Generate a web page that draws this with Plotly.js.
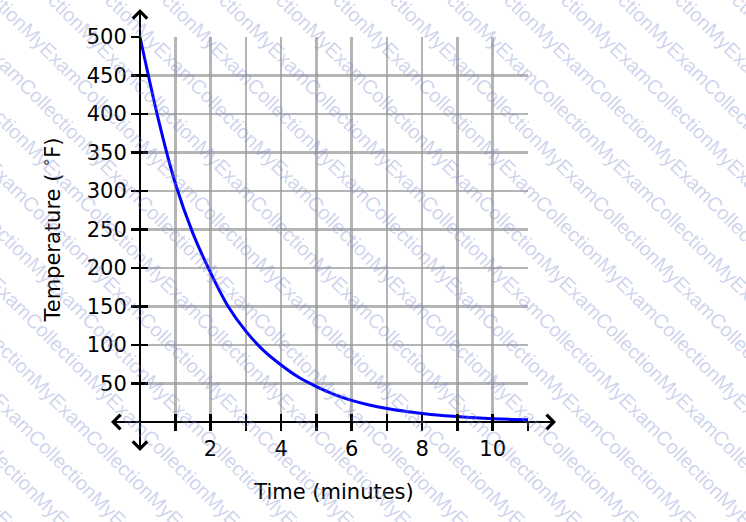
<!DOCTYPE html>
<html>
<head>
<meta charset="utf-8">
<script src="https://cdn.plot.ly/plotly-3.0.1.min.js"></script>
<style>
  html, body { margin: 0; padding: 0; background: #fff; }
  #chart { width: 746px; height: 522px; }
</style>
</head>
<body>
<div id="chart"></div>
<script>
// values, every half minute
var minutes = [0, 0.5, 1, 1.5, 2, 2.5, 3, 3.5, 4, 4.5, 5, 5.5, 6, 6.5, 7, 7.5, 8, 8.5, 9, 9.5, 10, 10.5, 11];
var temps   = [500, 397, 310, 245, 194, 150, 118, 93, 74, 58, 46, 36, 28, 22, 17.5, 14, 11, 8.7, 7, 5.4, 4.3, 3.4, 2.8];

var xTicks = [1, 2, 3, 4, 5, 6, 7, 8, 9, 10, 11];
var xLabels = ['', '2', '', '4', '', '6', '', '8', '', '10', ''];
var yTicks = [50, 100, 150, 200, 250, 300, 350, 400, 450, 500];

var font = 'DejaVu Sans, sans-serif';

var curve = {
  x: minutes,
  y: temps,
  type: 'scatter',
  mode: 'lines',
  line: { color: '#0000ff', width: 3, shape: 'spline', smoothing: 0.8 },
  cliponaxis: false,
  hoverinfo: 'skip'
};

// plot area in pixels: x 140..528, y 37..422
var W = 388, H = 385;
function px(p) { return (p - 140) / W; }
function py(p) { return (422 - p) / H; }

// watermark rows
var mark = '';
for (var i = 0; i < 6; i++) mark += 'MyExamCollection';
var annotations = [];
for (var k = -14; k <= 14; k++) {
  annotations.push({
    xref: 'paper', yref: 'paper',
    x: px(373 + k * 57), y: py(261),
    xanchor: 'center', yanchor: 'middle',
    text: mark, showarrow: false, textangle: 45,
    font: { family: 'Liberation Sans, Arial, sans-serif', size: 20, color: 'rgba(120,135,205,0.36)' }
  });
}

// axis arrowheads (both ends)
function head(xp, yp, dx, dy) {
  return {
    xref: 'paper', yref: 'paper', x: px(xp), y: py(yp), ax: dx, ay: dy,
    text: '', showarrow: true, arrowhead: 4, arrowsize: 1.4, standoff: 0,
    arrowwidth: 2, arrowcolor: '#000'
  };
}
annotations.push(head(556, 422, -12, 0));
annotations.push(head(111, 422, 12, 0));
annotations.push(head(140, 9, 0, 12));
annotations.push(head(140, 451, 0, -12));

var shapes = [
  { type: 'line', xref: 'paper', yref: 'paper', x0: px(112), x1: px(554), y0: py(422), y1: py(422),
    line: { color: '#000', width: 2 } },
  { type: 'line', xref: 'paper', yref: 'paper', x0: px(140), x1: px(140), y0: py(11), y1: py(449),
    line: { color: '#000', width: 2 } }
];

var tickStyle = { ticklen: 8, tickwidth: 2.5, tickcolor: '#000' };

var layout = {
  width: 746, height: 522,
  margin: { l: 140, r: 218, t: 37, b: 100 },
  paper_bgcolor: '#fff', plot_bgcolor: '#fff',
  showlegend: false,
  xaxis: Object.assign({
    range: [0, 11], tickmode: 'array', tickvals: xTicks, ticktext: xLabels,
    showgrid: true, gridcolor: 'rgba(150,150,150,0.7)', gridwidth: 2.5,
    zeroline: false, showline: false, ticks: 'outside',
    tickfont: { family: font, size: 21, color: '#000' },
    title: { text: 'Time (minutes)', font: { family: font, size: 21, color: '#000' }, standoff: 24 }
  }, tickStyle),
  yaxis: Object.assign({
    range: [0, 500], tickmode: 'array', tickvals: yTicks,
    showgrid: true, gridcolor: 'rgba(150,150,150,0.7)', gridwidth: 2.5,
    zeroline: false, showline: false, ticks: 'outside',
    tickfont: { family: font, size: 21, color: '#000' },
    title: { text: 'Temperature ( <sup>∘</sup>F)', font: { family: font, size: 21, color: '#000' }, standoff: 20 }
  }, tickStyle),
  // overlay axes only for the inner half of the crossing ticks
  xaxis2: Object.assign({
    overlaying: 'x', anchor: 'y2', range: [0, 11], tickmode: 'array', tickvals: xTicks,
    showticklabels: false, showgrid: false, zeroline: false, ticks: 'inside', side: 'bottom'
  }, tickStyle),
  yaxis2: Object.assign({
    overlaying: 'y', anchor: 'x2', range: [0, 500], tickmode: 'array', tickvals: yTicks,
    showticklabels: false, showgrid: false, zeroline: false, ticks: 'inside', side: 'left'
  }, tickStyle),
  shapes: shapes,
  annotations: annotations
};

var dummy = { x: [0], y: [0], xaxis: 'x2', yaxis: 'y2', mode: 'markers', marker: { opacity: 0 }, hoverinfo: 'skip' };

Plotly.newPlot('chart', [dummy, curve], layout, { displayModeBar: false, staticPlot: true });
</script>
</body>
</html>
